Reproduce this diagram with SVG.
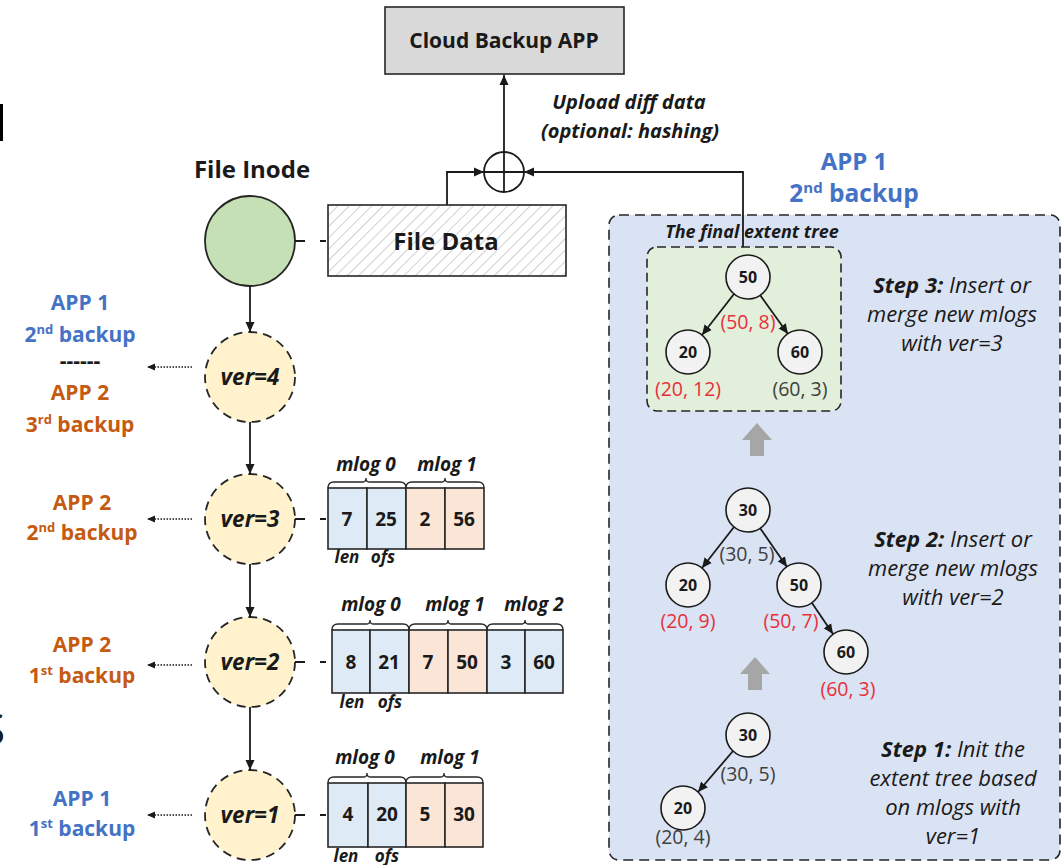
<svg xmlns="http://www.w3.org/2000/svg" width="1063" height="865" viewBox="0 0 1063 865">
<defs>
<style>
text{font-family:"Open Sans","Noto Sans","Liberation Sans",sans-serif;fill:#1a1a1a}
.b{font-weight:bold}
.bi{font-weight:bold;font-style:italic}
.i{font-style:italic}
.mid{text-anchor:middle}
.blue{fill:#4472c4}
.org{fill:#c55a11}
.red{fill:#e8303a}
.dk{fill:#404040}
.ln{stroke:#1a1a1a;stroke-width:1.8;fill:none}
.ver{fill:#fff2cc;stroke:#262626;stroke-width:1.8;stroke-dasharray:9 6}
.node{fill:#f2f2f2;stroke:#1a1a1a;stroke-width:1.6}
.cb{fill:#deebf7;stroke:#262626;stroke-width:1.6}
.co{fill:#fbe5d6;stroke:#262626;stroke-width:1.6}
.brace{fill:none;stroke:#262626;stroke-width:1.3}
.dash2{stroke:#1a1a1a;stroke-width:1.8;fill:none;stroke-dasharray:10 15 6 100}
.dot{stroke:#1a1a1a;stroke-width:1.3;stroke-dasharray:1.5 1.5;fill:none}
.num{font-size:19px;font-weight:bold;text-anchor:middle}
.ml{font-size:19px;font-weight:bold;font-style:italic;text-anchor:middle}
.lo{font-size:17px;font-weight:bold;font-style:italic;text-anchor:middle}
.lbl{font-size:21px;font-weight:bold;text-anchor:middle}
.vt{font-size:22.5px;font-weight:bold;font-style:italic;text-anchor:middle}
.nt{font-size:16px;font-weight:bold;text-anchor:middle}
.tl{font-size:19.5px;text-anchor:middle}
.st{font-size:22px;font-style:italic;text-anchor:middle}
.grey{fill:#a6a6a6}
</style>
<marker id="ah" viewBox="0 0 10 10" refX="10" refY="5" markerWidth="10" markerHeight="10" markerUnits="userSpaceOnUse" orient="auto">
<path d="M0,0.5 L10,5 L0,9.5 Z" fill="#1a1a1a"/>
</marker>
<marker id="ahs" viewBox="0 0 10 10" refX="10" refY="5" markerWidth="8" markerHeight="8" markerUnits="userSpaceOnUse" orient="auto">
<path d="M0,0.5 L10,5 L0,9.5 Z" fill="#1a1a1a"/>
</marker>
<pattern id="hatch" patternUnits="userSpaceOnUse" width="8" height="8" patternTransform="rotate(45)">
<rect width="8" height="8" fill="#ffffff"/>
<line x1="0" y1="0" x2="0" y2="8" stroke="#b0b0b0" stroke-width="1.2"/>
</pattern>
</defs>
<rect width="1063" height="865" fill="#ffffff"/>

<!-- edge artifacts -->
<rect x="0" y="104" width="3" height="37" fill="#000"/>
<text x="-19" y="745" style="font-size:44px">S</text>

<!-- right panel -->
<g id="panel">
<rect x="609" y="215" width="451" height="645" rx="10" fill="#dae3f3" stroke="#262626" stroke-width="1.6" stroke-dasharray="10 6"/>
<text x="854" y="170" class="blue b mid" style="font-size:24px">APP 1</text>
<text x="854" y="202" class="blue b mid" style="font-size:24.5px">2<tspan style="font-size:15px" dy="-9">nd</tspan><tspan dy="9"> backup</tspan></text>
</g>

<g id="cloud">
<rect x="385" y="7" width="239" height="67" fill="#d9d9d9" stroke="#262626" stroke-width="1.6"/>
<text x="504" y="48" class="b mid" style="font-size:21px">Cloud Backup APP</text>
</g>

<g id="xor">
<circle cx="504" cy="172" r="20" fill="#fff" stroke="#1a1a1a" stroke-width="1.8"/>
<line x1="484" y1="172" x2="524" y2="172" class="ln"/>
<line x1="504" y1="152" x2="504" y2="192" class="ln"/>
</g>

<g id="upload-label">
<text x="629" y="109" class="bi mid" style="font-size:20px">Upload diff data</text>
<text x="630" y="138" class="bi mid" style="font-size:20px">(optional: hashing)</text>
</g>

<g id="file-inode">
<text x="252" y="178" class="b mid" style="font-size:24px">File Inode</text>
<circle cx="250" cy="241" r="45" fill="#c5e0b4" stroke="#262626" stroke-width="1.8"/>
</g>

<g id="file-data">
<rect x="328" y="205" width="238" height="71" fill="url(#hatch)" stroke="#262626" stroke-width="1.6"/>
<text x="446" y="250" class="b mid" style="font-size:24px">File Data</text>
</g>

<!-- ver nodes -->
<g id="ver4">
<circle cx="250" cy="377" r="45" class="ver"/>
<text x="250" y="385" class="vt">ver=4</text>
</g>
<g id="ver3">
<circle cx="250" cy="519" r="45" class="ver"/>
<text x="250" y="527" class="vt">ver=3</text>
</g>
<g id="ver2">
<circle cx="250" cy="662" r="45" class="ver"/>
<text x="250" y="670" class="vt">ver=2</text>
</g>
<g id="ver1">
<circle cx="250" cy="815" r="45" class="ver"/>
<text x="250" y="823" class="vt">ver=1</text>
</g>

<!-- left labels -->
<g id="label-ver4">
<text x="80" y="310" class="lbl blue">APP 1</text>
<text x="80" y="342" class="lbl blue">2<tspan style="font-size:13px" dy="-8">nd</tspan><tspan dy="8"> backup</tspan></text>
<text x="80" y="368" class="lbl">------</text>
<text x="80" y="400" class="lbl org">APP 2</text>
<text x="80" y="432" class="lbl org">3<tspan style="font-size:13px" dy="-8">rd</tspan><tspan dy="8"> backup</tspan></text>
</g>
<g id="label-ver3">
<text x="82" y="510" class="lbl org">APP 2</text>
<text x="82" y="540" class="lbl org">2<tspan style="font-size:13px" dy="-8">nd</tspan><tspan dy="8"> backup</tspan></text>
</g>
<g id="label-ver2">
<text x="82" y="652" class="lbl org">APP 2</text>
<text x="82" y="683" class="lbl org">1<tspan style="font-size:13px" dy="-8">st</tspan><tspan dy="8"> backup</tspan></text>
</g>
<g id="label-ver1">
<text x="82" y="806" class="lbl blue">APP 1</text>
<text x="82" y="836" class="lbl blue">1<tspan style="font-size:13px" dy="-8">st</tspan><tspan dy="8"> backup</tspan></text>
</g>

<!-- mlog arrays -->
<g id="mlogs-ver3">
<rect x="328" y="488" width="39" height="61" class="cb"/>
<rect x="367" y="488" width="39" height="61" class="cb"/>
<rect x="406" y="488" width="39" height="61" class="co"/>
<rect x="445" y="488" width="39" height="61" class="co"/>
<text x="347" y="526" class="num">7</text>
<text x="386" y="526" class="num">25</text>
<text x="425" y="526" class="num">2</text>
<text x="464" y="526" class="num">56</text>
<path class="brace" d="M328,488 Q328,482 334,482 L363,482 Q366,482 366,478 Q366,482 369,482 L400,482 Q406,482 406,488"/>
<path class="brace" d="M406,488 Q406,482 412,482 L442,482 Q445,482 445,478 Q445,482 448,482 L478,482 Q484,482 484,488"/>
<text x="366" y="471" class="ml">mlog 0</text>
<text x="447" y="471" class="ml">mlog 1</text>
<text x="347" y="563" class="lo">len</text>
<text x="383" y="563" class="lo">ofs</text>
</g>
<g id="mlogs-ver2">
<rect x="332" y="630" width="38" height="63" class="cb"/>
<rect x="370" y="630" width="39" height="63" class="cb"/>
<rect x="409" y="630" width="39" height="63" class="co"/>
<rect x="448" y="630" width="39" height="63" class="co"/>
<rect x="487" y="630" width="38" height="63" class="cb"/>
<rect x="525" y="630" width="38" height="63" class="cb"/>
<text x="351" y="669" class="num">8</text>
<text x="389" y="669" class="num">21</text>
<text x="428" y="669" class="num">7</text>
<text x="467" y="669" class="num">50</text>
<text x="506" y="669" class="num">3</text>
<text x="544" y="669" class="num">60</text>
<path class="brace" d="M332,630 Q332,624 338,624 L367,624 Q370,624 370,620 Q370,624 373,624 L403,624 Q409,624 409,630"/>
<path class="brace" d="M409,630 Q409,624 415,624 L445,624 Q448,624 448,620 Q448,624 451,624 L481,624 Q487,624 487,630"/>
<path class="brace" d="M487,630 Q487,624 493,624 L522,624 Q525,624 525,620 Q525,624 528,624 L557,624 Q563,624 563,630"/>
<text x="371" y="611" class="ml">mlog 0</text>
<text x="455" y="611" class="ml">mlog 1</text>
<text x="534" y="611" class="ml">mlog 2</text>
<text x="352" y="708" class="lo">len</text>
<text x="390" y="708" class="lo">ofs</text>
</g>
<g id="mlogs-ver1">
<rect x="328" y="783" width="40" height="64" class="cb"/>
<rect x="368" y="783" width="38" height="64" class="cb"/>
<rect x="406" y="783" width="39" height="64" class="co"/>
<rect x="445" y="783" width="38" height="64" class="co"/>
<text x="348" y="821" class="num">4</text>
<text x="387" y="821" class="num">20</text>
<text x="425" y="821" class="num">5</text>
<text x="464" y="821" class="num">30</text>
<path class="brace" d="M328,783 Q328,777 334,777 L364,777 Q367,777 367,773 Q367,777 370,777 L400,777 Q406,777 406,783"/>
<path class="brace" d="M406,783 Q406,777 412,777 L441,777 Q444,777 444,773 Q444,777 447,777 L477,777 Q483,777 483,783"/>
<text x="365" y="764" class="ml">mlog 0</text>
<text x="450" y="764" class="ml">mlog 1</text>
<text x="346" y="862" class="lo">len</text>
<text x="387" y="862" class="lo">ofs</text>
</g>

<!-- extent tree step 3 -->
<g id="final-tree">
<rect x="647" y="247" width="194" height="164" rx="10" fill="#e2efda" stroke="#262626" stroke-width="1.6" stroke-dasharray="9 5"/>
<text x="752" y="238" class="bi mid" style="font-size:18px">The final extent tree</text>
</g>
<g id="s3-n50"><circle cx="748" cy="277" r="22" class="node"/><text x="748" y="283" class="nt">50</text></g>
<g id="s3-n20"><circle cx="688" cy="352" r="22" class="node"/><text x="688" y="358" class="nt">20</text></g>
<g id="s3-n60"><circle cx="800" cy="352" r="22" class="node"/><text x="800" y="358" class="nt">60</text></g>
<text x="748" y="329" class="tl red">(50, 8)</text>
<text x="688" y="396" class="tl red">(20, 12)</text>
<text x="800" y="396" class="tl dk">(60, 3)</text>
<g id="step3-text">
<text x="952" y="293" class="st"><tspan class="bi">Step 3:</tspan> Insert or</text>
<text x="952" y="322" class="st">merge new mlogs</text>
<text x="952" y="351" class="st">with ver=3</text>
</g>

<!-- step 2 -->
<g id="s2-n30"><circle cx="748" cy="510" r="22" class="node"/><text x="748" y="516" class="nt">30</text></g>
<g id="s2-n20"><circle cx="688" cy="585" r="22" class="node"/><text x="688" y="591" class="nt">20</text></g>
<g id="s2-n50"><circle cx="799" cy="585" r="22" class="node"/><text x="799" y="591" class="nt">50</text></g>
<g id="s2-n60"><circle cx="846" cy="652" r="22" class="node"/><text x="846" y="658" class="nt">60</text></g>
<text x="747" y="561" class="tl dk">(30, 5)</text>
<text x="688" y="628" class="tl red">(20, 9)</text>
<text x="791" y="628" class="tl red">(50, 7)</text>
<text x="848" y="696" class="tl red">(60, 3)</text>
<g id="step2-text">
<text x="953" y="547" class="st"><tspan class="bi">Step 2:</tspan> Insert or</text>
<text x="953" y="576" class="st">merge new mlogs</text>
<text x="953" y="605" class="st">with ver=2</text>
</g>

<!-- step 1 -->
<g id="s1-n30"><circle cx="748" cy="735" r="22" class="node"/><text x="748" y="741" class="nt">30</text></g>
<g id="s1-n20"><circle cx="683" cy="808" r="22" class="node"/><text x="683" y="814" class="nt">20</text></g>
<text x="748" y="781" class="tl dk">(30, 5)</text>
<text x="683" y="844" class="tl dk">(20, 4)</text>
<g id="step1-text">
<text x="953" y="757" class="st"><tspan class="bi">Step 1:</tspan> Init the</text>
<text x="953" y="786" class="st">extent tree based</text>
<text x="953" y="815" class="st">on mlogs with</text>
<text x="953" y="844" class="st">ver=1</text>
</g>

<!-- grey block arrows -->
<g id="up-arrows">
<path class="grey" d="M757,423 L772,440 L764,440 L764,456 L750,456 L750,440 L742,440 Z"/>
<path class="grey" d="M755,657 L770,674 L762,674 L762,690 L748,690 L748,674 L740,674 Z"/>
</g>

<!-- connectors -->
<g id="connectors">
<line x1="504" y1="152" x2="504" y2="75" class="ln" marker-end="url(#ah)"/>
<path d="M447,205 V172 H484" class="ln" marker-end="url(#ah)"/>
<path d="M743,247 V172 H524" class="ln" marker-end="url(#ah)"/>
<line x1="295" y1="241" x2="328" y2="241" class="dash2"/>
<line x1="250" y1="286" x2="250" y2="332" class="ln" marker-end="url(#ah)"/>
<line x1="250" y1="422" x2="250" y2="474" class="ln" marker-end="url(#ah)"/>
<line x1="250" y1="564" x2="250" y2="617" class="ln" marker-end="url(#ah)"/>
<line x1="250" y1="707" x2="250" y2="770" class="ln" marker-end="url(#ah)"/>
<line x1="295" y1="519" x2="328" y2="519" class="dash2"/>
<line x1="295" y1="662" x2="332" y2="662" class="dash2"/>
<line x1="295" y1="815" x2="328" y2="815" class="dash2"/>
<line x1="192" y1="367" x2="147" y2="367" class="dot" marker-end="url(#ahs)"/>
<line x1="192" y1="519" x2="147" y2="519" class="dot" marker-end="url(#ahs)"/>
<line x1="192" y1="665" x2="147" y2="665" class="dot" marker-end="url(#ahs)"/>
<line x1="192" y1="815" x2="147" y2="815" class="dot" marker-end="url(#ahs)"/>
<line x1="734" y1="294" x2="702" y2="335" class="ln" marker-end="url(#ah)"/>
<line x1="760" y1="295" x2="788" y2="334" class="ln" marker-end="url(#ah)"/>
<line x1="734" y1="527" x2="702" y2="568" class="ln" marker-end="url(#ah)"/>
<line x1="760" y1="528" x2="787" y2="567" class="ln" marker-end="url(#ah)"/>
<line x1="812" y1="603" x2="833" y2="634" class="ln" marker-end="url(#ah)"/>
<line x1="733" y1="751" x2="698" y2="792" class="ln" marker-end="url(#ah)"/>
</g>
</svg>
